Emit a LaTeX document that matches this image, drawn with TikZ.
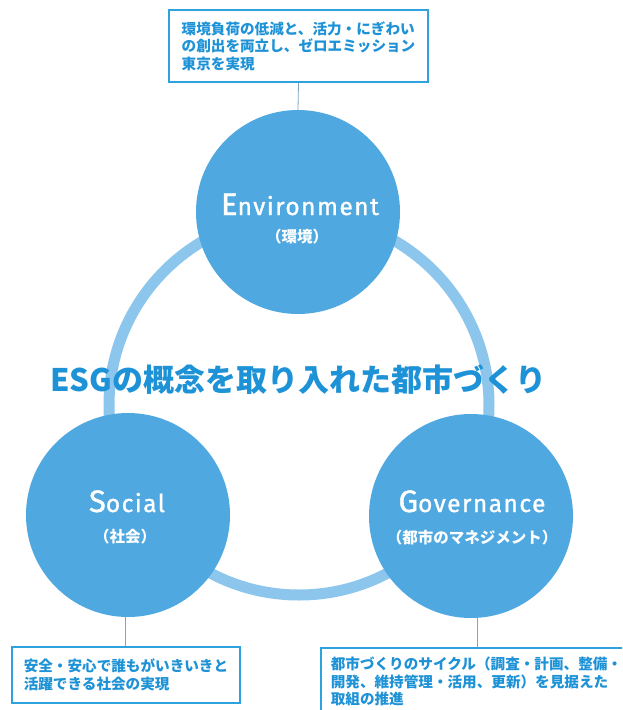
\documentclass[tikz,border=0pt]{standalone}
\usepackage{fontspec}
\setmainfont{Noto Sans CJK JP}
\newfontfamily\latinfont{Fira Sans}[LetterSpace=6.0,FakeBold=1.2]
\usetikzlibrary{positioning,calc}
\definecolor{esgblue}{HTML}{4FA8E0}
\definecolor{esgring}{HTML}{8DC6EC}
\definecolor{esgtext}{HTML}{1E92D6}
\definecolor{esgframe}{HTML}{2EA2DC}
\definecolor{esgline}{HTML}{7FA6C2}

\begin{document}
\begin{tikzpicture}[
  x=1pt,y=-1pt,
  esgcircle/.style={circle,fill=esgblue,minimum size=204pt,inner sep=0pt},
  circletitle/.style={text=white,font=\latinfont\fontsize{24.5}{26}\selectfont,inner sep=0pt,anchor=base},
  circlesub/.style={text=white,font=\bfseries\fontsize{15.5}{17}\selectfont,inner sep=0pt},
  goalbox/.style={draw=esgframe,line width=1.6pt,fill=white,text=esgtext,font=\bfseries\fontsize{14.6}{17.5}\selectfont,align=left,inner xsep=10pt,inner ysep=9.5pt},
  tie/.style={draw=esgline,line width=0.8pt}
]
\useasboundingbox (0,0) rectangle (622,710);
\clip (0,0) rectangle (622,710);
\fill[white] (0,0) rectangle (622,710);

% ring behind the three circles
\draw[esgring,line width=11pt] (299,405) circle[radius=190pt];

\node[esgcircle] (env) at (298,212) {};
\node[esgcircle] (soc) at (128,515) {};
\node[esgcircle] (gov) at (471,516) {};

\node[circletitle] (envname) at (300,215) {{\fontsize{31}{32}\selectfont E}nvironment};
\node[circlesub] (envsub) at (297,237) {（環境）};
\node[circletitle] (socname) at (127,512) {{\fontsize{31}{32}\selectfont S}ocial};
\node[circlesub] (socsub) at (125,537) {（社会）};
\node[circletitle] (govname) at (472,512) {{\fontsize{31}{32}\selectfont G}overnance};
\node[circlesub] (govsub) at (472,538) {（都市のマネジメント）};

\node[text=esgtext,font=\bfseries\fontsize{31}{34}\selectfont,inner sep=0pt] (title) at (298.5,380) {ESGの概念を取り入れた都市づくり};

\node[goalbox,minimum width=259pt,minimum height=72pt] (envbox) at (298.5,46)
  {環境負荷の低減と、活力・にぎわい\\の創出を両立し、ゼロエミッション\\東京を実現};
\node[goalbox,minimum width=228pt,minimum height=56pt] (socbox) at (126,675)
  {安全・安心で誰もがいきいきと\\活躍できる社会の実現};
\node[goalbox,anchor=north west,text depth=55pt] (govbox) at (320,647)
  {都市づくりのサイクル（調査・計画、整備・\\開発、維持管理・活用、更新）を見据えた\\取組の推進};

\draw[tie] (envbox.south) -- (env.north);
\draw[tie] ([xshift=-3pt]soc.south) -- ([xshift=-3pt]soc.south |- socbox.north);
\draw[tie] ([xshift=6pt]gov.south) -- ([xshift=6pt]gov.south |- govbox.north);
\end{tikzpicture}
\end{document}
